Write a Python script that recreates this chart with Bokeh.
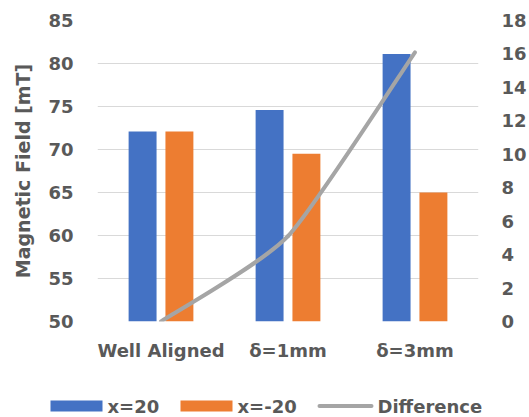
from bokeh.plotting import figure
from bokeh.layouts import column
from bokeh.models import Range1d, LinearAxis, FixedTicker
from bokeh.core.properties import value
from bokeh.embed import file_html
from bokeh.resources import INLINE

# Measured field at the two probe positions for each alignment case
categories = ["Well Aligned", "δ=1mm", "δ=3mm"]
field_pos20 = [72.1, 74.6, 81.1]
field_neg20 = [72.1, 69.5, 65.0]
difference = [0.0, 5.1, 16.1]

left_ticks = [50, 55, 60, 65, 70, 75, 80, 85]
right_ticks = [0, 2, 4, 6, 8, 10, 12, 14, 16, 18]
series_names = ["x=20", "x=-20", "Difference"]

BLUE = "#4472C4"
ORANGE = "#ED7D31"
GREY = "#A5A5A5"
TEXT = "#595959"
GRID = "#D9D9D9"
FONT = "DejaVu Sans"
SIZE = "18px"

p = figure(width=529, height=380, output_backend="svg", toolbar_location=None,
           x_range=Range1d(0, 3), y_range=Range1d(50, 85),
           min_border_left=97, min_border_right=49,
           min_border_top=20, min_border_bottom=59)
p.outline_line_color = None
p.background_fill_color = "white"
p.extra_y_ranges = {"diff": Range1d(0, 18)}
p.frame_align = False

centers = [i + 0.5 for i in range(len(categories))]
bar_w = 0.22
offset = 0.145

p.vbar(x=[c - offset for c in centers], top=field_pos20, bottom=50,
       width=bar_w, fill_color=BLUE, line_color=None)
p.vbar(x=[c + offset for c in centers], top=field_neg20, bottom=50,
       width=bar_w, fill_color=ORANGE, line_color=None)

# Lightly smoothed difference line: Catmull-Rom style cubic Bezier segments
xs, ys = centers, difference
n = len(xs)
k = 10.0
x0, y0, x1, y1, cx0, cy0, cx1, cy1 = [], [], [], [], [], [], [], []
for i in range(n - 1):
    pm = max(i - 1, 0)
    pp = min(i + 2, n - 1)
    x0.append(xs[i]); y0.append(ys[i])
    x1.append(xs[i + 1]); y1.append(ys[i + 1])
    cx0.append(xs[i] + (xs[i + 1] - xs[pm]) / k)
    cy0.append(ys[i] + (ys[i + 1] - ys[pm]) / k)
    cx1.append(xs[i + 1] - (xs[pp] - xs[i]) / k)
    cy1.append(ys[i + 1] - (ys[pp] - ys[i]) / k)
p.bezier(x0=x0, y0=y0, x1=x1, y1=y1, cx0=cx0, cy0=cy0, cx1=cx1, cy1=cy1,
         line_color=GREY, line_width=4, line_cap="round", y_range_name="diff")

def style_axis(ax):
    ax.axis_line_color = None
    ax.major_tick_line_color = None
    ax.minor_tick_line_color = None
    ax.major_tick_out = 0
    ax.major_tick_in = 0
    ax.minor_tick_out = 0
    ax.minor_tick_in = 0
    ax.major_label_text_font = FONT
    ax.major_label_text_font_style = "bold"
    ax.major_label_text_font_size = SIZE
    ax.major_label_text_color = TEXT

# bottom category axis
xa = p.xaxis[0]
xa.ticker = FixedTicker(ticks=centers)
xa.major_label_overrides = {c: lab for c, lab in zip(centers, categories)}
style_axis(xa)
xa.major_label_standoff = 18

# left axis
ya = p.yaxis[0]
ya.ticker = FixedTicker(ticks=left_ticks)
style_axis(ya)
ya.major_label_standoff = 24
ya.axis_label = "Magnetic Field [mT]"
ya.axis_label_text_font = FONT
ya.axis_label_text_font_style = "bold"
ya.axis_label_text_font_size = "19px"
ya.axis_label_text_color = TEXT
ya.axis_label_standoff = 11

# right axis for the difference
ra = LinearAxis(y_range_name="diff", ticker=FixedTicker(ticks=right_ticks))
style_axis(ra)
ra.major_label_standoff = 23
p.add_layout(ra, "right")

p.xgrid.visible = False
p.ygrid.ticker = FixedTicker(ticks=left_ticks)
p.ygrid.grid_line_color = GRID
p.ygrid.grid_line_width = 1

# legend strip underneath the chart, laid out in pixel units
lg = figure(width=529, height=37, output_backend="svg", toolbar_location=None,
            x_axis_type=None, y_axis_type=None, min_border=0,
            min_border_left=0, min_border_right=0,
            min_border_top=0, min_border_bottom=0,
            x_range=Range1d(0, 529), y_range=Range1d(0, 37))
lg.outline_line_color = None
lg.grid.visible = False
lg.frame_align = False

key_left = [50, 180]
key_w = 52
lg.quad(left=key_left, right=[k_ + key_w for k_ in key_left],
        bottom=[6, 6], top=[17, 17], fill_color=[BLUE, ORANGE], line_color=None)
lg.line(x=[319, 371], y=[11.5, 11.5], line_color=GREY, line_width=4,
        line_cap="round")
lg.text(x=[key_left[0] + key_w + 5, key_left[1] + key_w + 5, 377],
        y=[11, 11, 11], text=series_names,
        text_font=value(FONT), text_font_style="bold",
        text_font_size=value(SIZE), text_color=TEXT,
        text_baseline="middle", text_align="left")

open("out.html", "w").write(file_html(column(p, lg, spacing=0), INLINE))
